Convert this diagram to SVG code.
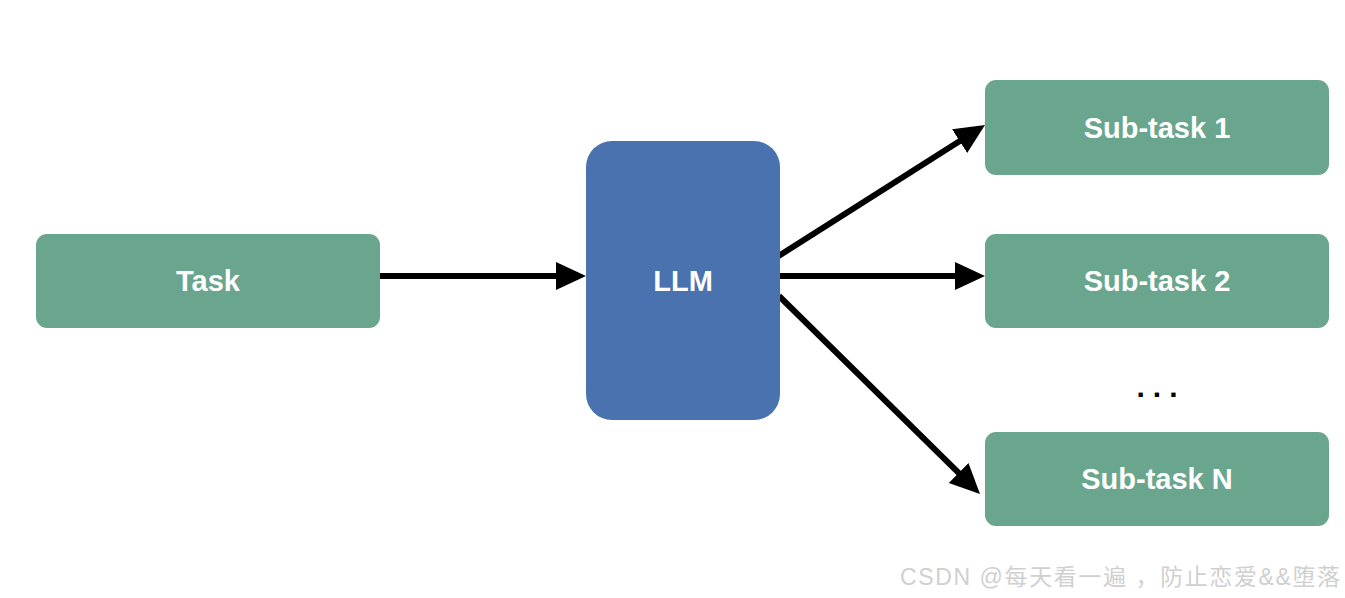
<svg xmlns="http://www.w3.org/2000/svg" width="1345" height="598" viewBox="0 0 1345 598">
<defs>
<style>
.g{fill:#6aa68e;}
.b{fill:#4a72ae;}
.t{font-family:"Liberation Sans",Arial,sans-serif;font-weight:bold;font-size:29px;fill:#ffffff;text-anchor:middle;}
.c{stroke:#000;stroke-width:6;fill:none;}
.wm{font-family:"Liberation Sans","Noto Sans CJK SC",sans-serif;font-size:23px;fill:#d0d0d0;}
</style>
<marker id="ah" viewBox="0 0 30 30" markerWidth="30" markerHeight="30" markerUnits="userSpaceOnUse" refX="10" refY="15" orient="auto">
<path d="M0,1 L30,15 L0,29 z" fill="#000"/>
</marker>
</defs>
<rect width="1345" height="598" fill="#fff"/>
<g id="connectors">
<line class="c" x1="380" y1="276" x2="566" y2="276" marker-end="url(#ah)"/>
<line class="c" x1="777" y1="257" x2="968.1" y2="135.7" marker-end="url(#ah)"/>
<line class="c" x1="780" y1="276" x2="965" y2="276" marker-end="url(#ah)"/>
<line class="c" x1="779" y1="296" x2="965.75" y2="479.96" marker-end="url(#ah)"/>
</g>
<g id="task">
<rect class="g" x="36" y="234" width="344" height="94" rx="11"/>
<text class="t" x="208" y="291">Task</text>
</g>
<g id="llm">
<rect class="b" x="586" y="141" width="194" height="279" rx="26"/>
<text class="t" x="683" y="291">LLM</text>
</g>
<g id="sub1">
<rect class="g" x="985" y="80" width="344" height="95" rx="11"/>
<text class="t" x="1157" y="138">Sub-task 1</text>
</g>
<g id="sub2">
<rect class="g" x="985" y="234" width="344" height="94" rx="11"/>
<text class="t" x="1157" y="291">Sub-task 2</text>
</g>
<g id="dots">
<text x="1161" y="397" font-family="Liberation Sans,Arial,sans-serif" font-weight="bold" font-size="30" letter-spacing="8" text-anchor="middle" fill="#000">...</text>
</g>
<g id="subN">
<rect class="g" x="985" y="432" width="344" height="94" rx="11"/>
<text class="t" x="1157" y="489">Sub-task N</text>
</g>
<text class="wm" x="900" y="585" textLength="440" lengthAdjust="spacing">CSDN @每天看一遍 ，防止恋爱&amp;&amp;堕落</text>
</svg>
